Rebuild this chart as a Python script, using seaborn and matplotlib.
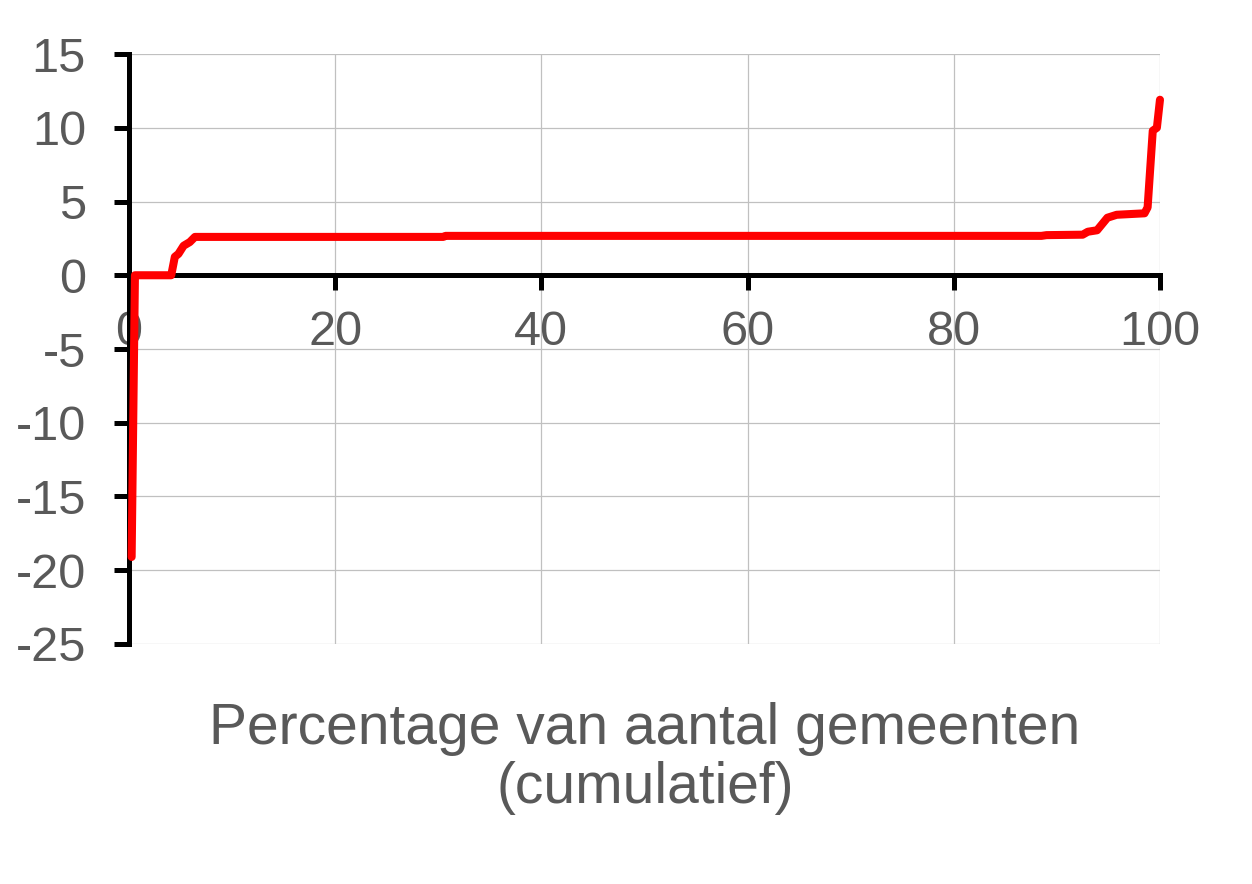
import numpy as np
import pandas as pd
import matplotlib
matplotlib.use("Agg")
import matplotlib.pyplot as plt
import seaborn as sns

# cumulative share of municipalities (%) and the value at that point
pct_gemeenten = [0.26, 0.58, 4.1, 4.45, 4.8, 5.3, 5.9, 6.4, 30.5, 30.7,
                 88.5, 89.0, 92.5, 93.0, 93.9, 94.9, 95.8, 98.5, 98.8,
                 99.3, 99.7, 100.0]
waarde = [-19.1, 0.0, 0.0, 1.25, 1.45, 2.0, 2.25, 2.6, 2.6, 2.67,
          2.67, 2.72, 2.75, 2.95, 3.05, 3.9, 4.1, 4.2, 4.6,
          9.8, 10.0, 11.9]

x_ticks = [0, 20, 40, 60, 80, 100]
y_ticks = [-25, -20, -15, -10, -5, 0, 5, 10, 15]
x_label = "Percentage van aantal gemeenten\n(cumulatief)"

sns.set_style("white")
plt.rcParams["font.family"] = ["Liberation Sans", "DejaVu Sans"]
plt.rcParams["axes.unicode_minus"] = False

df = pd.DataFrame({"pct": pct_gemeenten, "waarde": waarde})

fig = plt.figure(figsize=(12.52, 8.84), dpi=100)
ax = fig.add_axes([0.103, 0.2715, 0.8235, 0.6674])

sns.lineplot(data=df, x="pct", y="waarde", sort=False, color="#ff0000",
             linewidth=5.8, ax=ax, zorder=5, solid_capstyle="round",
             solid_joinstyle="round", clip_on=False)

ax.set_xlim(0, 100)
ax.set_ylim(-25, 15)
ax.set_xticks(x_ticks)
ax.set_yticks(y_ticks)
ax.grid(True, color="#c0c0c0", linewidth=0.9)
ax.set_axisbelow(True)

for side in ["top", "right"]:
    ax.spines[side].set_visible(False)
ax.spines["bottom"].set_position(("data", 0))
ax.spines["left"].set_linewidth(3.6)
ax.spines["bottom"].set_linewidth(3.6)
ax.spines["left"].set_color("black")
ax.spines["bottom"].set_color("black")

ax.tick_params(axis="both", direction="out", length=11, width=3.6,
               color="black", labelsize=35, labelcolor="#595959",
               bottom=True, left=True)
ax.tick_params(axis="y", pad=20)
ax.tick_params(axis="x", pad=14)

ax.set_xlabel("")
ax.set_ylabel("")
fig.text(0.515, 0.142, x_label, ha="center", va="center", fontsize=41,
         color="#595959", linespacing=1.1)

fig.savefig("out.png", dpi=100)
